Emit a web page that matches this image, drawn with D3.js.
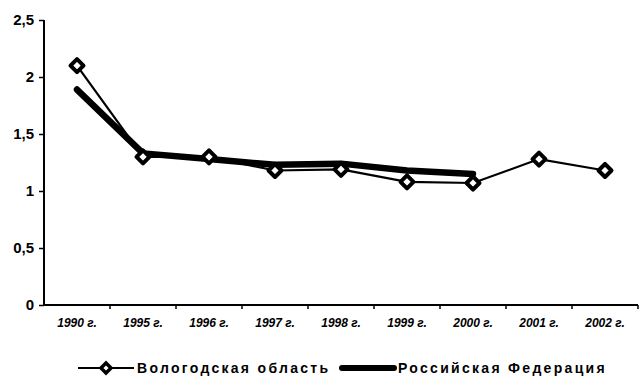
<!DOCTYPE html>
<html><head><meta charset="utf-8">
<script src="https://cdn.jsdelivr.net/npm/d3@7"></script>
<style>body{margin:0;background:#fff}svg{display:block}
.yax text{font-family:'Liberation Sans',Arial,sans-serif;font-size:15px;font-weight:bold;fill:#000}
.xax text{font-family:'Liberation Sans',Arial,sans-serif;font-size:12px;font-style:italic;font-weight:bold;fill:#000}
.lg text{font-family:'Liberation Sans',Arial,sans-serif;font-size:14px;font-weight:bold;fill:#000;letter-spacing:2.3px}
</style>
</head><body><svg id="c" width="639" height="378"></svg>
<script>
const categories = ["1990 г.","1995 г.","1996 г.","1997 г.","1998 г.","1999 г.","2000 г.","2001 г.","2002 г."];
const vologda = [2.1, 1.3, 1.3, 1.18, 1.19, 1.08, 1.07, 1.28, 1.18];
const russia = [1.89, 1.33, 1.28, 1.23, 1.24, 1.18, 1.15, null, null];
const yTicks = [0, 0.5, 1, 1.5, 2, 2.5];
const seriesNames = ["Вологодская область", "Российская Федерация"];

const svg = d3.select("#c");
const m = {l:44, r:638, t:20, b:305};
const x = d3.scaleBand().domain(categories).range([m.l, m.r]);
const y = d3.scaleLinear().domain([0, 2.5]).range([m.b, m.t]);
const fmt = d => String(d).replace(".", ",");

// y axis
const ya = svg.append("g").attr("class","yax").attr("transform", `translate(${m.l},0)`)
  .call(d3.axisLeft(y).tickValues(yTicks).tickFormat(fmt).tickSize(5).tickPadding(5));
ya.attr("font-size",null).attr("font-family",null);
ya.select(".domain").attr("stroke","#000").attr("stroke-width",2).attr("d",`M0,${m.t}V${m.b}`);
ya.selectAll(".tick line").attr("stroke","#000").attr("stroke-width",1.5);

// x axis
const xa = svg.append("g").attr("class","xax").attr("transform", `translate(0,${m.b})`)
  .call(d3.axisBottom(x).tickSize(0).tickPadding(13));
xa.attr("font-size",null).attr("font-family",null);
xa.select(".domain").attr("stroke","#000").attr("stroke-width",2).attr("d",`M${m.l},0H${m.r}`);
// boundary ticks between categories
svg.append("g").selectAll("line").data(categories.slice(1).concat(["end"]))
  .join("line")
  .attr("x1",(d,i)=> (i < categories.length-1 ? x(d) : m.r))
  .attr("x2",(d,i)=> (i < categories.length-1 ? x(d) : m.r))
  .attr("y1",m.b).attr("y2",m.b+4).attr("stroke","#000").attr("stroke-width",1.5);

const cx = d => x(d) + x.bandwidth()/2;

// Russia thick line
const rData = categories.map((c,i)=>({c, v:russia[i]})).filter(d=>d.v!=null);
const line = d3.line().x(d=>cx(d.c)).y(d=>y(d.v));
svg.append("path").datum(rData).attr("d",line).attr("fill","none")
  .attr("stroke","#000").attr("stroke-width",6.5).attr("stroke-linecap","round").attr("stroke-linejoin","round");

// Vologda thin line with diamonds
const vData = categories.map((c,i)=>({c, v:vologda[i]}));
svg.append("path").datum(vData).attr("d",line).attr("fill","none")
  .attr("stroke","#000").attr("stroke-width",2.2);
const diamond = s => `M0,${-s}L${s},0L0,${s}L${-s},0Z`;
svg.append("g").selectAll("path").data(vData).join("path")
  .attr("transform",d=>`translate(${cx(d.c)},${y(d.v)})`)
  .attr("d",diamond(6.5)).attr("fill","#fff").attr("stroke","#000").attr("stroke-width",4).attr("stroke-linejoin","round");

// legend
const lg = svg.append("g").attr("class","lg");
lg.append("line").attr("x1",78).attr("x2",134).attr("y1",368).attr("y2",368).attr("stroke","#000").attr("stroke-width",2);
lg.append("path").attr("transform","translate(106,368)").attr("d",diamond(5))
  .attr("fill","#fff").attr("stroke","#000").attr("stroke-width",3.5);
lg.append("text").attr("x",137).attr("y",373).text(seriesNames[0]);
lg.append("line").attr("x1",342).attr("x2",394).attr("y1",368).attr("y2",368).attr("stroke","#000").attr("stroke-width",6).attr("stroke-linecap","round");
lg.append("text").attr("x",398).attr("y",373).text(seriesNames[1]);
</script></body></html>
